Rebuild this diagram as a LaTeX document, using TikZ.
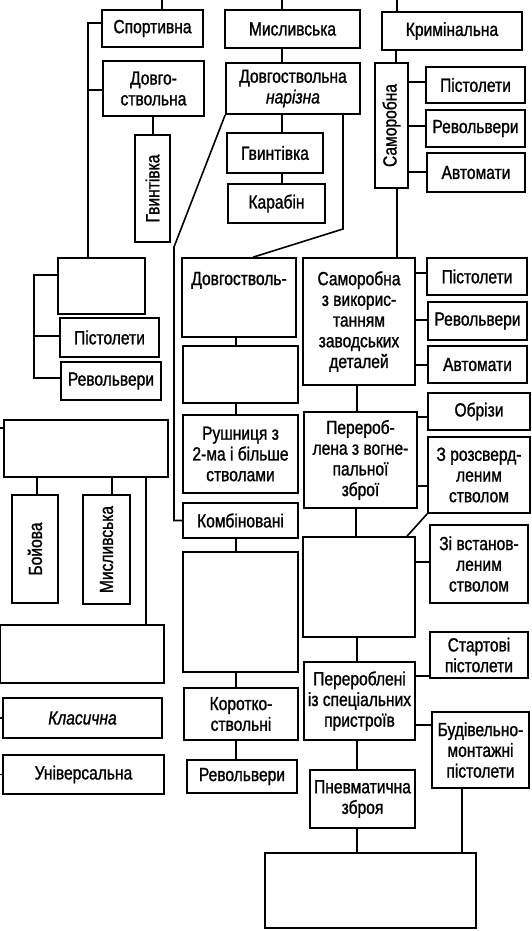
\documentclass[tikz,border=0pt]{standalone}
\usepackage{fontspec}
\setmainfont[FakeStretch=0.82,FakeBold=1.2]{Liberation Sans}
\newcommand\bx[7][]{\node[box,#1,minimum width={#5-#3},minimum height={#6-#4}] (#2) at ({(#3+#5)/2},{(#4+#6)/2}) {#7};}
\begin{document}
\begin{tikzpicture}[x=1pt,y=-1pt,
  box/.style={draw,line width=1.6pt,inner sep=1pt,align=center,font=\fontsize{19}{20.7}\selectfont},
  ln/.style={line width=1.6pt}]
\useasboundingbox (0,0) rectangle (532,931);
% left column
\bx{sport}{102}{10}{203}{47}{Спортивна}
\bx{dovgo}{103}{61}{204}{116}{Довго-\\ствольна}
\bx{gvint1}{135}{135}{170}{242}{\rotatebox{90}{Гвинтівка}}
\bx{blankA}{58}{258}{145}{314}{}
\bx{pist2}{60}{318}{159}{357}{Пістолети}
\bx{rev2}{61}{362}{161}{400}{Револьвери}
\bx{blankB}{4}{420}{168}{477}{}
\bx{boy}{12}{495}{58}{603}{\rotatebox{90}{Бойова}}
\bx{mysl2}{83}{495}{130}{604}{\rotatebox{90}{Мисливська}}
\bx{blankC}{0}{625}{164}{683}{}
\bx{klas}{3}{698}{162}{738}{\itshape Класична}
\bx{univ}{3}{755}{164}{794}{Універсальна}
% middle column
\bx{mysl}{225}{10}{360}{48}{Мисливська}
\bx{dnar}{226}{63}{360}{114}{Довгоствольна\\\itshape нарізна}
\bx{gvint2}{227}{133}{323}{173}{Гвинтівка}
\bx{karab}{228}{184}{325}{223}{Карабін}
\bx[text height=22pt,text depth=47pt,inner ysep=5pt]{dstv}{182}{258}{296}{337}{Довгостволь-}
\bx{blankE}{183}{346}{298}{403}{}
\bx{rush}{183}{415}{298}{493}{Рушниця з\\2-ма і більше\\стволами}
\bx{komb}{183}{503}{298}{538}{Комбіновані}
\bx{blankF}{183}{552}{298}{672}{}
\bx{korot}{184}{688}{298}{740}{Коротко-\\ствольні}
\bx{rev3}{187}{760}{297}{793}{Револьвери}
% right column
\bx{krim}{382}{12}{522}{50}{Кримінальна}
\bx{samor}{375}{63}{408}{188}{\rotatebox{90}{Саморобна}}
\bx{pist1}{426}{67}{525}{103}{Пістолети}
\bx{rev1}{426}{110}{525}{147}{Револьвери}
\bx{avt1}{427}{153}{525}{192}{Автомати}
\bx{samz}{303}{258}{415}{385}{Саморобна\\з викорис-\\танням\\заводських\\деталей}
\bx{pist3}{427}{258}{527}{295}{Пістолети}
\bx{rev4}{428}{302}{527}{340}{Револьвери}
\bx{avt2}{428}{346}{527}{383}{Автомати}
\bx{perer}{304}{412}{417}{508}{Перероб-\\лена з вогне-\\пальної\\зброї}
\bx{obr}{428}{393}{530}{430}{Обрізи}
\bx{rozs}{428}{437}{530}{513}{З розсверд-\\леним\\стволом}
\bx{blankG}{303}{537}{415}{637}{}
\bx{zivst}{430}{525}{528}{603}{Зі встанов-\\леним\\стволом}
\bx{start}{430}{632}{528}{678}{Стартові\\пістолети}
\bx{perspec}{304}{662}{415}{740}{Перероблені\\із спеціальних\\пристроїв}
\bx{budiv}{432}{712}{529}{788}{Будівельно-\\монтажні\\пістолети}
\bx{pnev}{310}{770}{415}{828}{Пневматична\\зброя}
\bx{blankH}{265}{853}{476}{928}{}
% free ends
\coordinate (t1) at (162,0);
\coordinate (t2) at (282,0);
\coordinate (t3) at (397,0);
\coordinate (s1) at (0,428);
\coordinate (s2) at (0,718);
\coordinate (s3) at (0,774.5);
% connectors
\draw[ln] (t1) -- (sport.north -| t1);
\draw[ln] (t2) -- (mysl.north -| t2);
\draw[ln] (t3) -- (krim.north -| t3);
\draw[ln] (mysl.south -| t2) -- (dnar.north -| t2);
\draw[ln] (dnar.south -| t2) -- (gvint2.north -| t2);
\draw[ln] (gvint2.south -| t2) -- (karab.north -| t2);
\draw[ln] (dnar.south -| 343,0) -- (343,229) -- (dstv.north -| 253,0);
\draw[ln] (dnar.south west) -- (174,247) -- (komb.west -| 174,0) -- (komb.west);
\draw[ln] (sport.west |- 0,23) -- (88,23) -- (blankA.north -| 88,0);
\draw[ln] (dovgo.west |- 0,90) -- (88,90);
\draw[ln] (dovgo.south -| 153,0) -- (gvint1.north -| 153,0);
\draw[ln] (blankA.west |- 0,275) -- (34,275) -- (34,378) -- (rev2.west |- 0,378);
\draw[ln] (34,336) -- (pist2.west |- 0,336);
\draw[ln] (s1) -- (blankB.west |- s1);
\draw[ln] (s2) -- (klas.west);
\draw[ln] (s3) -- (univ.west);
\draw[ln] (blankB.south -| 37,0) -- (boy.north -| 37,0);
\draw[ln] (blankB.south -| 112,0) -- (mysl2.north -| 112,0);
\draw[ln] (blankB.south -| 146,0) -- (blankC.north -| 146,0);
\draw[ln] (dstv.south -| 236,0) -- (blankE.north -| 236,0);
\draw[ln] (blankE.south -| 236,0) -- (rush.north -| 236,0);
\draw[ln] (komb.south -| 236,0) -- (blankF.north -| 236,0);
\draw[ln] (blankF.south -| 236,0) -- (korot.north -| 236,0);
\draw[ln] (korot.south -| 236,0) -- (rev3.north -| 236,0);
\draw[ln] (krim.south -| 396,0) -- (samor.north -| 396,0);
\draw[ln] (samor.south -| 397,0) -- (samz.north -| 397,0);
\draw[ln] (samor.east |- 0,82) -- (pist1.west |- 0,82);
\draw[ln] (samor.east |- 0,126) -- (rev1.west |- 0,126);
\draw[ln] (samor.east |- 0,172) -- (avt1.west |- 0,172);
\draw[ln] (samz.east |- 0,273) -- (pist3.west |- 0,273);
\draw[ln] (samz.east |- 0,320) -- (rev4.west |- 0,320);
\draw[ln] (samz.east |- 0,365) -- (avt2.west |- 0,365);
\draw[ln] (samz.south -| 357,0) -- (perer.north -| 357,0);
\draw[ln] (perer.east |- 0,417) -- (obr.west |- 0,417);
\draw[ln] (perer.east |- 0,486) -- (rozs.west |- 0,486);
\draw[ln] (perer.south -| 356,0) -- (blankG.north -| 356,0);
\draw[ln] (rozs.south west) -- (blankG.north -| 407,0);
\draw[ln] (blankG.east |- 0,562) -- (zivst.west |- 0,562);
\draw[ln] (blankG.south -| 357,0) -- (perspec.north -| 357,0);
\draw[ln] (perspec.east |- 0,676) -- (start.west |- 0,676);
\draw[ln] (perspec.east |- 0,725) -- (budiv.west |- 0,725);
\draw[ln] (perspec.south -| 357,0) -- (pnev.north -| 357,0);
\draw[ln] (pnev.south -| 357,0) -- (blankH.north -| 357,0);
\draw[ln] (budiv.south -| 462,0) -- (blankH.north -| 462,0);
\end{tikzpicture}
\end{document}
